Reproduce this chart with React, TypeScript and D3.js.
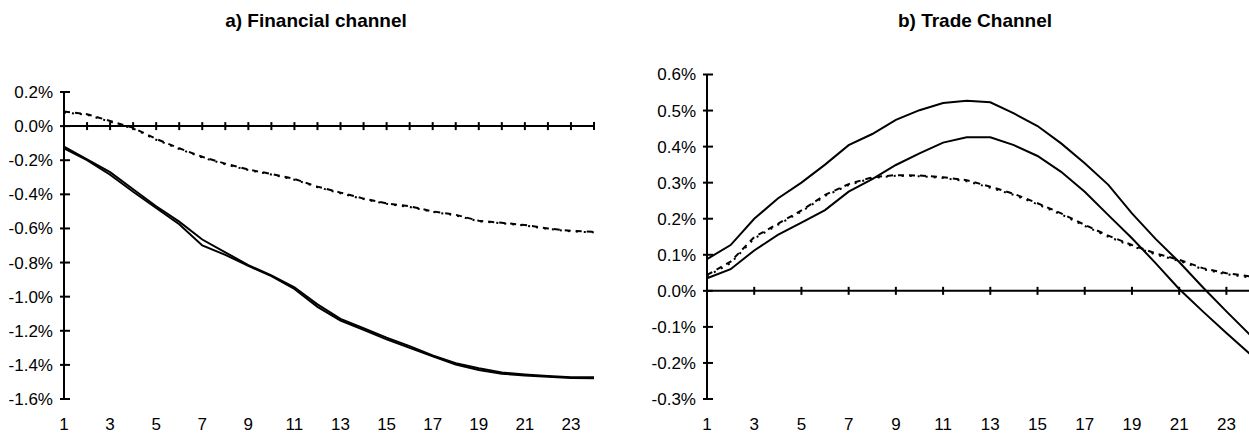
import * as d3 from "d3";

// horizon (quarters) shared by both panels
const periods = [1, 2, 3, 4, 5, 6, 7, 8, 9, 10, 11, 12, 13, 14, 15, 16, 17, 18, 19, 20, 21, 22, 23, 24];
const xLabels = [1, 3, 5, 7, 9, 11, 13, 15, 17, 19, 21, 23];

// a) financial channel, values in percent
const finSolidA = [-0.12, -0.195, -0.27, -0.37, -0.47, -0.56, -0.665, -0.74, -0.815, -0.875, -0.945, -1.045, -1.13, -1.185, -1.24, -1.29, -1.345, -1.39, -1.42, -1.445, -1.456, -1.465, -1.472, -1.473];
const finSolidB = [-0.13, -0.2, -0.285, -0.385, -0.48, -0.575, -0.7, -0.755, -0.82, -0.88, -0.955, -1.06, -1.14, -1.195, -1.25, -1.3, -1.35, -1.398, -1.43, -1.452, -1.462, -1.47, -1.477, -1.478];
const finDashed = [0.085, 0.07, 0.03, -0.01, -0.075, -0.13, -0.18, -0.22, -0.255, -0.28, -0.31, -0.355, -0.39, -0.425, -0.453, -0.47, -0.5, -0.52, -0.555, -0.567, -0.58, -0.6, -0.614, -0.62];
const finDotted = [0.08, 0.066, 0.026, -0.014, -0.08, -0.134, -0.184, -0.224, -0.258, -0.284, -0.314, -0.358, -0.394, -0.428, -0.456, -0.474, -0.503, -0.523, -0.558, -0.57, -0.583, -0.603, -0.617, -0.623];
const finTicks = [0.2, 0, -0.2, -0.4, -0.6, -0.8, -1.0, -1.2, -1.4, -1.6];

// b) trade channel
const tradeSolidA = [0.088, 0.127, 0.2, 0.256, 0.3, 0.35, 0.404, 0.435, 0.474, 0.501, 0.521, 0.527, 0.523, 0.492, 0.457, 0.409, 0.354, 0.294, 0.215, 0.144, 0.08, 0.01, -0.057, -0.122];
const tradeSolidB = [0.035, 0.06, 0.112, 0.155, 0.189, 0.224, 0.275, 0.31, 0.349, 0.381, 0.411, 0.426, 0.426, 0.404, 0.374, 0.33, 0.275, 0.21, 0.146, 0.077, 0.005, -0.057, -0.117, -0.175];
const tradeDashed = [0.044, 0.081, 0.149, 0.186, 0.223, 0.266, 0.296, 0.315, 0.321, 0.32, 0.315, 0.307, 0.289, 0.269, 0.243, 0.215, 0.183, 0.153, 0.127, 0.104, 0.086, 0.063, 0.049, 0.04];
const tradeDotted = [0.04, 0.077, 0.145, 0.183, 0.22, 0.263, 0.293, 0.313, 0.319, 0.318, 0.313, 0.304, 0.286, 0.266, 0.24, 0.212, 0.18, 0.15, 0.124, 0.101, 0.083, 0.06, 0.046, 0.037];
const tradeTicks = [0.6, 0.5, 0.4, 0.3, 0.2, 0.1, 0, -0.1, -0.2, -0.3];

const font = "'Liberation Sans', Arial, sans-serif";

function Panel({ title, titleX, x0, x1, yMin, yMax, yTop, yTicks, solidA, solidB, dashed, dotted, tickEvery }) {
  const x = d3.scaleLinear().domain([1, 24]).range([x0, x1]);
  const y = d3.scaleLinear().domain([yMin, yMax]).range([399, yTop]);
  const line = d3.line<number>().x((d, i) => x(periods[i])).y(d => y(d));
  const fmt = (v: number) => (Math.abs(v) < 1e-9 ? "0.0" : v.toFixed(1)) + "%";
  const zero = y(0);
  const xTicks = periods.filter(p => p > 1 && (tickEvery === 1 || p % 2 === 1));

  return (
    <g>
      <text x={titleX} y={27} textAnchor="middle" fontFamily={font} fontWeight="bold" fontSize={19}>{title}</text>
      {/* y axis */}
      <line x1={x0} x2={x0} y1={y(yMax)} y2={y(yMin)} stroke="#000" strokeWidth={2} />
      {yTicks.map(t => (
        <g key={t}>
          <line x1={x0 - 4} x2={x0 + 6} y1={y(t)} y2={y(t)} stroke="#000" strokeWidth={2} />
          <text x={x0 - 11} y={y(t)} dy="0.35em" textAnchor="end" fontFamily={font} fontSize={17}>{fmt(t)}</text>
        </g>
      ))}
      {/* x axis on zero line */}
      <line x1={x0} x2={x(24)} y1={zero} y2={zero} stroke="#000" strokeWidth={2} />
      {xTicks.map(p => (
        <line key={p} x1={x(p)} x2={x(p)} y1={zero - 4} y2={zero + 4} stroke="#000" strokeWidth={2} />
      ))}
      {xLabels.map(p => (
        <text key={p} x={x(p)} y={430} textAnchor="middle" fontFamily={font} fontSize={17}>{p}</text>
      ))}
      <path d={line(solidA) || ""} fill="none" stroke="#000" strokeWidth={2} />
      <path d={line(solidB) || ""} fill="none" stroke="#000" strokeWidth={2} />
      <path d={line(dashed) || ""} fill="none" stroke="#000" strokeWidth={2} strokeDasharray="6,5" />
      <path d={line(dotted) || ""} fill="none" stroke="#000" strokeWidth={2} strokeDasharray="2,6" />
    </g>
  );
}

export default function App() {
  return (
    <svg width={1249} height={433} style={{ position: "absolute", left: 0, top: 0, background: "#fff" }}>
      <Panel title="a) Financial channel" titleX={316} x0={64} x1={594} yMin={-1.6} yMax={0.2} yTop={92}
        yTicks={finTicks} solidA={finSolidA} solidB={finSolidB} dashed={finDashed} dotted={finDotted} tickEvery={1} />
      <Panel title="b) Trade Channel" titleX={975} x0={707} x1={1250} yMin={-0.3} yMax={0.6} yTop={74.5}
        yTicks={tradeTicks} solidA={tradeSolidA} solidB={tradeSolidB} dashed={tradeDashed} dotted={tradeDotted} tickEvery={2} />
    </svg>
  );
}
